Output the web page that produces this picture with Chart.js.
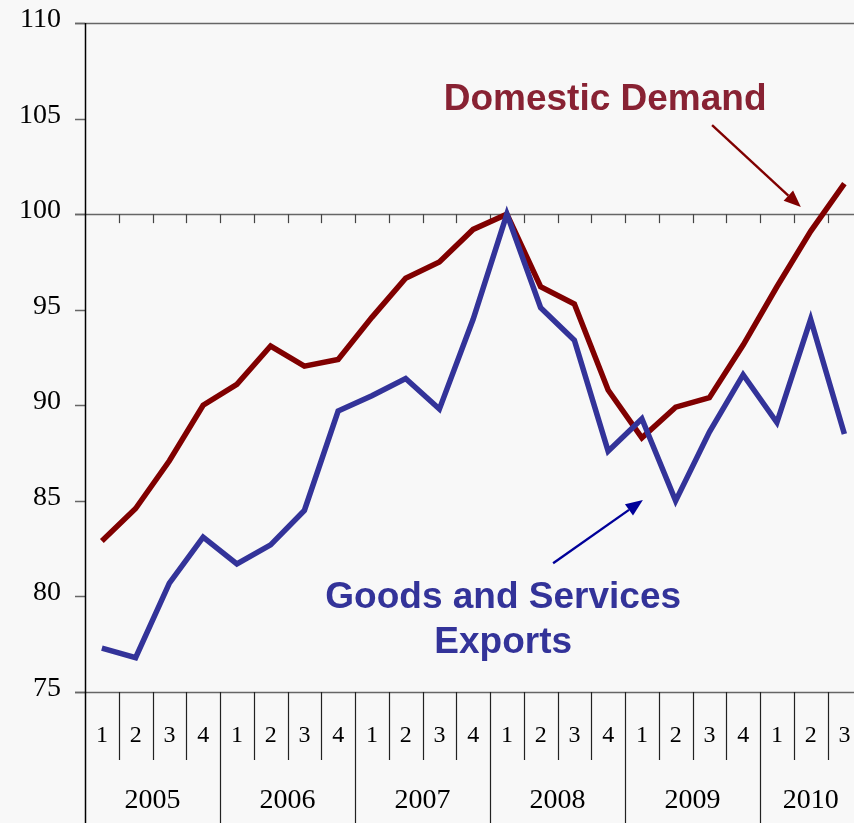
<!DOCTYPE html>
<html>
<head>
<meta charset="utf-8">
<script src="https://cdn.jsdelivr.net/npm/chart.js@4.4.0/dist/chart.umd.min.js"></script>
<style>
  html, body { margin: 0; padding: 0; background: #f8f8f8; }
  #wrap { width: 854px; height: 823px; }
</style>
</head>
<body>
<div id="wrap"><canvas id="chart" width="854" height="823"></canvas></div>
<script>
// Quarterly index, 2008Q1 = 100
const years = ['2005', '2006', '2007', '2008', '2009', '2010'];
const quarters = ['1', '2', '3', '4', '1', '2', '3', '4', '1', '2', '3', '4',
                  '1', '2', '3', '4', '1', '2', '3', '4', '1', '2', '3'];
const domesticDemand = [82.9, 84.6, 87.1, 90.0, 91.1, 93.1, 92.05, 92.4, 94.6, 96.65, 97.5, 99.2,
                        100.0, 96.2, 95.3, 90.8, 88.3, 89.9, 90.4, 93.15, 96.2, 99.1, 101.6];
const exportsGS = [77.3, 76.8, 80.7, 83.1, 81.7, 82.7, 84.5, 89.7, 90.5, 91.4, 89.8, 94.5,
                   100.0, 95.1, 93.4, 87.6, 89.3, 85.0, 88.6, 91.6, 89.1, 94.5, 88.5];
const yTicks = [75, 80, 85, 90, 95, 100, 105, 110];

const RED = '#800000';
const BLUE = '#333399';

function toPoints(values) {
    return values.map((v, i) => ({ x: i, y: v }));
}

// axes, category labels and the two call-outs
const frame = {
    id: 'frame',
    beforeDatasetsDraw(chart) {
        const ctx = chart.ctx;
        const xs = chart.scales.x;
        const ys = chart.scales.y;
        const a = chart.chartArea;
        const yTop = ys.getPixelForValue(110);
        const y100 = ys.getPixelForValue(100);
        const yBot = ys.getPixelForValue(75);
        ctx.save();

        // horizontal rules at 110, 100 and 75
        ctx.strokeStyle = '#666';
        ctx.lineWidth = 1.5;
        [110, 100, 75].forEach(v => {
            const y = Math.round(ys.getPixelForValue(v)) + 0.5;
            ctx.beginPath();
            ctx.moveTo(a.left - 10, y);
            ctx.lineTo(chart.width, y);
            ctx.stroke();
        });

        // y tick marks and labels
        ctx.fillStyle = '#000';
        ctx.font = '28px "Liberation Serif", serif';
        ctx.textAlign = 'right';
        ctx.textBaseline = 'middle';
        yTicks.forEach(v => {
            const y = Math.round(ys.getPixelForValue(v)) + 0.5;
            ctx.beginPath();
            ctx.moveTo(a.left - 10, y);
            ctx.lineTo(a.left, y);
            ctx.stroke();
            ctx.fillText(String(v), 61, y - 4);
        });

        // small ticks hanging from the 100 line
        ctx.strokeStyle = '#444';
        ctx.lineWidth = 1.2;
        for (let i = 0; i < quarters.length; i++) {
            const x = Math.round(xs.getPixelForValue(i + 0.5)) + 0.5;
            ctx.beginPath();
            ctx.moveTo(x, y100);
            ctx.lineTo(x, y100 + 9);
            ctx.stroke();
        }

        // quarter and year dividers below the plot
        ctx.strokeStyle = '#222';
        for (let i = 0; i < quarters.length; i++) {
            const x = Math.round(xs.getPixelForValue(i + 0.5)) + 0.5;
            const yearEdge = (i + 1) % 4 === 0;
            ctx.beginPath();
            ctx.moveTo(x, yBot);
            ctx.lineTo(x, yearEdge ? chart.height : yBot + 68);
            ctx.stroke();
        }

        // y axis line
        ctx.strokeStyle = '#000';
        ctx.lineWidth = 1.5;
        ctx.beginPath();
        ctx.moveTo(a.left + 0.5, yTop);
        ctx.lineTo(a.left + 0.5, chart.height);
        ctx.stroke();

        // quarter labels
        ctx.textAlign = 'center';
        ctx.font = '24px "Liberation Serif", serif';
        quarters.forEach((q, i) => {
            ctx.fillText(q, xs.getPixelForValue(i), yBot + 44);
        });

        // year labels, centred on their quarters
        ctx.font = '28px "Liberation Serif", serif';
        years.forEach((yr, k) => {
            const first = k * 4;
            const last = Math.min(first + 3, quarters.length - 1);
            const cx = (xs.getPixelForValue(first - 0.5) + xs.getPixelForValue(last + 0.5)) / 2;
            ctx.fillText(yr, cx, yBot + 109);
        });
        ctx.restore();
    },
    afterDatasetsDraw(chart) {
        const ctx = chart.ctx;
        const xs = chart.scales.x;
        const ys = chart.scales.y;
        const px = (x, y) => [xs.getPixelForValue(x), ys.getPixelForValue(y)];

        function arrow(from, to, color) {
            const [x0, y0] = px(from[0], from[1]);
            const [x1, y1] = px(to[0], to[1]);
            const ang = Math.atan2(y1 - y0, x1 - x0);
            const len = 17, half = 7;
            ctx.save();
            ctx.strokeStyle = color;
            ctx.fillStyle = color;
            ctx.lineWidth = 2.4;
            ctx.beginPath();
            ctx.moveTo(x0, y0);
            ctx.lineTo(x1 - Math.cos(ang) * len, y1 - Math.sin(ang) * len);
            ctx.stroke();
            ctx.beginPath();
            ctx.moveTo(x1, y1);
            ctx.lineTo(x1 - Math.cos(ang) * len + Math.sin(ang) * half,
                       y1 - Math.sin(ang) * len - Math.cos(ang) * half);
            ctx.lineTo(x1 - Math.cos(ang) * len - Math.sin(ang) * half,
                       y1 - Math.sin(ang) * len + Math.cos(ang) * half);
            ctx.closePath();
            ctx.fill();
            ctx.restore();
        }

        ctx.save();
        ctx.font = 'bold 37px "Liberation Sans", Arial, sans-serif';
        ctx.textAlign = 'center';
        ctx.textBaseline = 'alphabetic';

        ctx.fillStyle = '#882233';
        let p = px(14.91, 105.45);
        ctx.fillText('Domestic Demand', p[0], p[1]);

        ctx.fillStyle = BLUE;
        p = px(11.89, 79.39);
        ctx.fillText('Goods and Services', p[0], p[1]);
        p = px(11.89, 77.03);
        ctx.fillText('Exports', p[0], p[1]);
        ctx.restore();

        arrow([18.08, 104.66], [20.71, 100.37], RED);
        arrow([13.37, 81.74], [16.03, 85.04], '#000099');
    }
};

const chart = new Chart(document.getElementById('chart'), {
    type: 'line',
    data: {
        datasets: [
            {
                label: 'Domestic Demand',
                data: toPoints(domesticDemand),
                borderColor: RED,
                borderWidth: 5.5,
                pointRadius: 0,
                tension: 0,
                order: 2
            },
            {
                label: 'Goods and Services Exports',
                data: toPoints(exportsGS),
                borderColor: BLUE,
                borderWidth: 5.5,
                pointRadius: 0,
                tension: 0,
                order: 1
            }
        ]
    },
    options: {
        responsive: false,
        animation: false,
        layout: { padding: { left: 85, right: 0, top: 23, bottom: 131 } },
        scales: {
            x: {
                type: 'linear',
                display: false,
                min: -0.5,
                max: 22.285   // last quarter runs off the right edge
            },
            y: {
                type: 'linear',
                display: false,
                min: 75,
                max: 110
            }
        },
        plugins: {
            legend: { display: false },
            tooltip: { enabled: false }
        }
    },
    plugins: [frame]
});
</script>
</body>
</html>
